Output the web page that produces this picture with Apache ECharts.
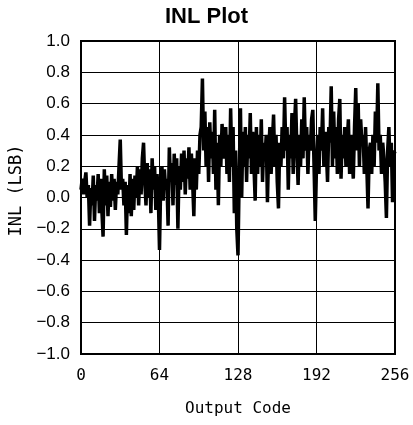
<!DOCTYPE html>
<html>
<head>
<meta charset="utf-8">
<script src="https://cdn.jsdelivr.net/npm/echarts@6/dist/echarts.min.js"></script>
<style>html,body{margin:0;padding:0;background:#fff}#c{width:413px;height:425px}</style>
</head>
<body>
<div id="c"></div>
<script>
var titleText = "INL Plot";
var xName = "Output Code";
var yName = "INL (LSB)";
var xTicks = [0, 64, 128, 192, 256];
var yTicks = [-1.0, -0.8, -0.6, -0.4, -0.2, 0.0, 0.2, 0.4, 0.6, 0.8, 1.0];
// INL value per output code 0..256
var inlValues = [
  0.05, 0.12, 0.02, 0.10, 0.16, 0.00, 0.08, -0.18, 0.06, -0.05, 0.14, -0.15, 0.08, -0.02, 0.15, -0.10,
  0.12, -0.08, -0.25, 0.18, -0.05, 0.14, -0.12, 0.10, -0.06, 0.15, -0.02, 0.12, -0.08, 0.10, 0.02, 0.20,
  0.37, 0.05, 0.12, -0.05, 0.10, -0.24, 0.08, -0.10, 0.15, -0.12, 0.12, -0.08, 0.14, 0.00, 0.20, -0.05,
  0.18, 0.02, 0.25, 0.35, 0.10, -0.05, 0.22, 0.00, 0.18, -0.10, 0.25, 0.05, 0.20, -0.08, 0.15, 0.02,
  -0.335, 0.10, 0.20, -0.02, 0.18, 0.05, 0.12, -0.18, 0.32, 0.10, 0.22, -0.05, 0.28, 0.08, 0.25, -0.20,
  0.20, 0.05, 0.28, 0.10, 0.30, 0.02, 0.25, 0.12, 0.32, 0.05, 0.28, 0.10, -0.12, 0.25, 0.05, 0.30,
  0.15, 0.40, 0.45, 0.76, 0.30, 0.55, 0.20, 0.45, 0.10, 0.48, 0.25, 0.42, 0.15, 0.56, 0.05, 0.35,
  -0.05, 0.40, 0.20, 0.47, 0.30, 0.25, 0.45, 0.15, 0.40, 0.10, 0.57, 0.20, 0.45, -0.10, 0.30, -0.20,
  -0.37, 0.15, 0.57, 0.00, 0.42, 0.20, 0.45, 0.10, 0.40, 0.25, 0.54, 0.15, 0.42, 0.20, -0.02, 0.45,
  0.15, 0.40, 0.20, 0.50, 0.10, 0.35, 0.25, 0.40, -0.03, 0.30, 0.45, 0.15, 0.35, 0.53, 0.20, 0.40,
  0.10, -0.07, 0.35, 0.20, 0.45, 0.25, 0.64, 0.30, 0.45, 0.05, 0.40, 0.25, 0.54, 0.15, 0.45, 0.63,
  0.30, 0.08, 0.40, 0.20, 0.50, 0.25, 0.64, 0.30, 0.45, 0.15, 0.40, 0.30, 0.50, 0.56, 0.20, -0.15,
  0.20, 0.40, 0.15, 0.45, 0.30, 0.57, 0.20, 0.42, 0.30, 0.10, 0.45, 0.35, 0.71, 0.20, 0.55, 0.25,
  0.45, 0.15, 0.50, 0.63, 0.12, 0.40, 0.25, 0.45, 0.20, 0.35, 0.50, 0.15, 0.40, 0.25, 0.12, 0.45,
  0.70, 0.30, 0.60, 0.20, 0.50, 0.35, 0.40, 0.15, 0.45, 0.20, -0.07, 0.30, 0.35, 0.15, 0.40, 0.20,
  0.55, 0.35, 0.73, 0.30, 0.40, 0.15, 0.35, 0.25, 0.10, -0.13, 0.30, 0.45, 0.20, 0.35, -0.03, 0.30,
  0.28
];

var seriesData = inlValues.map(function (v, i) { return [i, v]; });

var chart = echarts.init(document.getElementById('c'), null, {renderer: 'canvas'});
chart.setOption({
  animation: false,
  backgroundColor: '#fff',
  title: {
    text: titleText,
    left: 'center',
    top: 1,
    textStyle: {fontFamily: 'Liberation Sans', fontWeight: 'bold', fontSize: 22, color: '#000'}
  },
  grid: {
    left: 81, right: 18, top: 41, bottom: 71,
    show: true, borderColor: '#000', borderWidth: 2, backgroundColor: 'transparent'
  },
  xAxis: {
    type: 'value',
    min: xTicks[0], max: xTicks[xTicks.length - 1], interval: 64,
    name: xName,
    nameLocation: 'middle',
    nameGap: 47,
    nameTextStyle: {fontFamily: 'DejaVu Sans Mono', fontSize: 16, color: '#000'},
    axisLine: {show: false},
    axisTick: {show: false},
    axisLabel: {margin: 14, fontFamily: 'DejaVu Sans Mono', fontSize: 16, color: '#000'},
    splitLine: {show: true, lineStyle: {color: '#000', width: 1}}
  },
  yAxis: {
    type: 'value',
    min: yTicks[0], max: yTicks[yTicks.length - 1], interval: 0.2,
    name: yName,
    nameLocation: 'middle',
    nameGap: 49,
    nameTextStyle: {fontFamily: 'DejaVu Sans Mono', fontSize: 17, color: '#000', padding: [0, 0, 0, 14]},
    axisLine: {show: false},
    axisTick: {show: false},
    axisLabel: {
      margin: 11, fontFamily: 'Liberation Sans', fontSize: 17, color: '#000',
      formatter: function (v) { return v.toFixed(1).replace('-', '\u2212'); }
    },
    splitLine: {show: true, lineStyle: {color: '#000', width: 1}}
  },
  series: [{
    type: 'line',
    data: seriesData,
    showSymbol: false,
    lineStyle: {color: '#000', width: 3.5, join: 'miter', miterLimit: 4},
    z: 1
  }]
});
</script>
</body>
</html>
